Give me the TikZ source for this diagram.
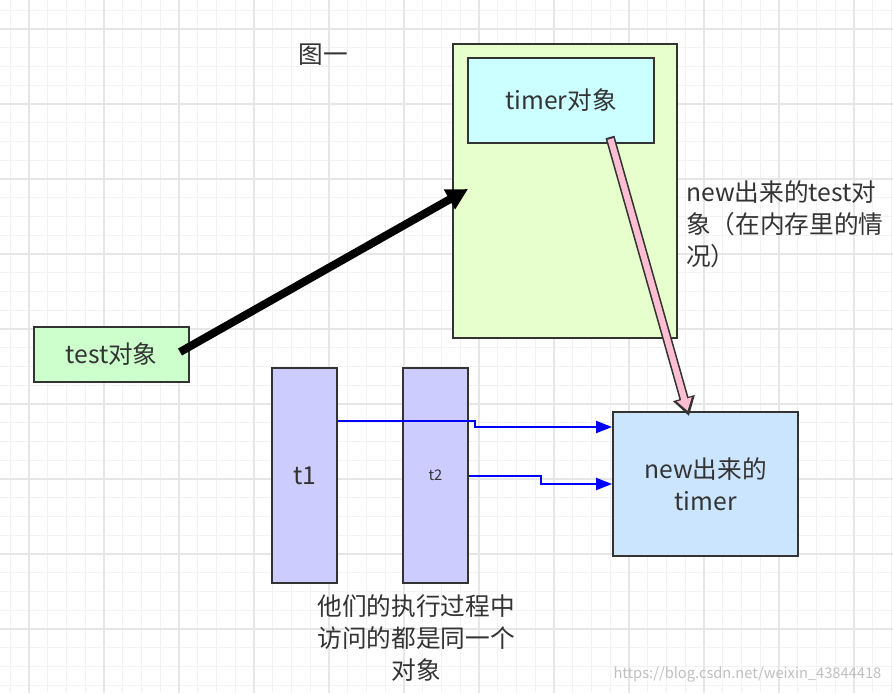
\documentclass[tikz,border=0pt]{standalone}
\usepackage{fontspec}
\setmainfont{Noto Sans CJK SC}
\usetikzlibrary{arrows.meta,calc}
\definecolor{gridminor}{HTML}{F2F2F2}
\definecolor{gridmajor}{HTML}{E6E6E6}
\definecolor{edge}{HTML}{333333}
\tikzset{
  box/.style={draw=edge,line width=1.4pt,inner sep=0pt},
  txt/.style={font=\fontsize{18.5}{24}\selectfont,text=black!80},
  blue arrow/.style={draw={rgb,255:red,0;green,0;blue,255},line width=1.5pt,-{Triangle[length=12pt,width=9pt]}},
}
\begin{document}
\begin{tikzpicture}[x=0.75pt,y=-0.75pt]
\useasboundingbox (0,0) rectangle (893,693);
\fill[white] (0,0) rectangle (893,693);
\foreach \i in {0,...,48} {\pgfmathsetmacro\xx{10.25+18.75*\i}
  \draw[gridminor,line width=0.8pt] (\xx,0) -- (\xx,693);}
\foreach \i in {0,...,37} {\pgfmathsetmacro\yy{10.25+18.75*\i}
  \draw[gridminor,line width=0.8pt] (0,\yy) -- (893,\yy);}
\foreach \i in {0,...,11} {\pgfmathsetmacro\xx{29+75*\i}
  \draw[gridmajor,line width=0.8pt] (\xx,0) -- (\xx,693);}
\foreach \i in {0,...,9} {\pgfmathsetmacro\yy{29+75*\i}
  \draw[gridmajor,line width=0.8pt] (0,\yy) -- (893,\yy);}

\node[txt] (title) at (323,55) {图一};
\draw[box,fill={rgb,255:red,230;green,255;blue,204}] (453,44) rectangle (677,338);
\node[box,fill={rgb,255:red,204;green,255;blue,255},minimum width=139.5pt,minimum height=63.75pt,txt] (timer) at (561,100.5) {timer对象};
\node[txt,align=left,anchor=north west,inner sep=0pt] (lbl) at (686,180) {new出来的test对\\象（在内存里的情\\况）};
\node[box,fill={rgb,255:red,204;green,255;blue,204},minimum width=116pt,minimum height=41pt,txt] (test) at (111.5,354.5) {test对象};
\node[box,fill={rgb,255:red,204;green,204;blue,255},minimum width=48.75pt,minimum height=161pt,txt] (t1) at (304.5,475.5) {t1};
\node[box,fill={rgb,255:red,204;green,204;blue,255},minimum width=48.75pt,minimum height=161pt,font=\fontsize{11}{13}\selectfont,text=black!80] (t2) at (435.5,475.5) {t2};
\node[box,fill={rgb,255:red,204;green,229;blue,255},minimum width=138.75pt,minimum height=108pt,txt,align=center] (nt) at (705.5,484) {new出来的\\timer};

\coordinate (a1) at (180,352);
\coordinate (a2) at (468,189);
\draw[line width=6pt,-{Triangle[length=16pt,width=16pt]}] (a1) -- (a2);
\coordinate (p1) at (610,137);
\coordinate (p2) at (689,416);
\draw[line width=7pt,draw=edge,-{Triangle[length=14pt,width=16pt]}] (p1) -- (p2);
\draw[line width=4.6pt,draw={rgb,255:red,255;green,190;blue,210},shorten >=4pt,-{Triangle[length=9pt,width=11pt]}] ($(p1)!1.5pt!(p2)$) -- (p2);

\draw[blue arrow] (t1.east |- 0,421) -- (475,421) -- (475,427) -- (nt.west |- 0,427);
\draw[blue arrow] (t2.east |- 0,476) -- (541,476) -- (541,484) -- (nt.west |- 0,484);

\node[txt,align=center,anchor=north,inner sep=0pt] (bot) at (416,594) {他们的执行过程中\\访问的都是同一个\\对象};
\node[font=\fontsize{11}{13}\selectfont,text=black!25,anchor=east] (wm) at (886,674) {https://blog.csdn.net/weixin\_43844418};
\end{tikzpicture}
\end{document}
